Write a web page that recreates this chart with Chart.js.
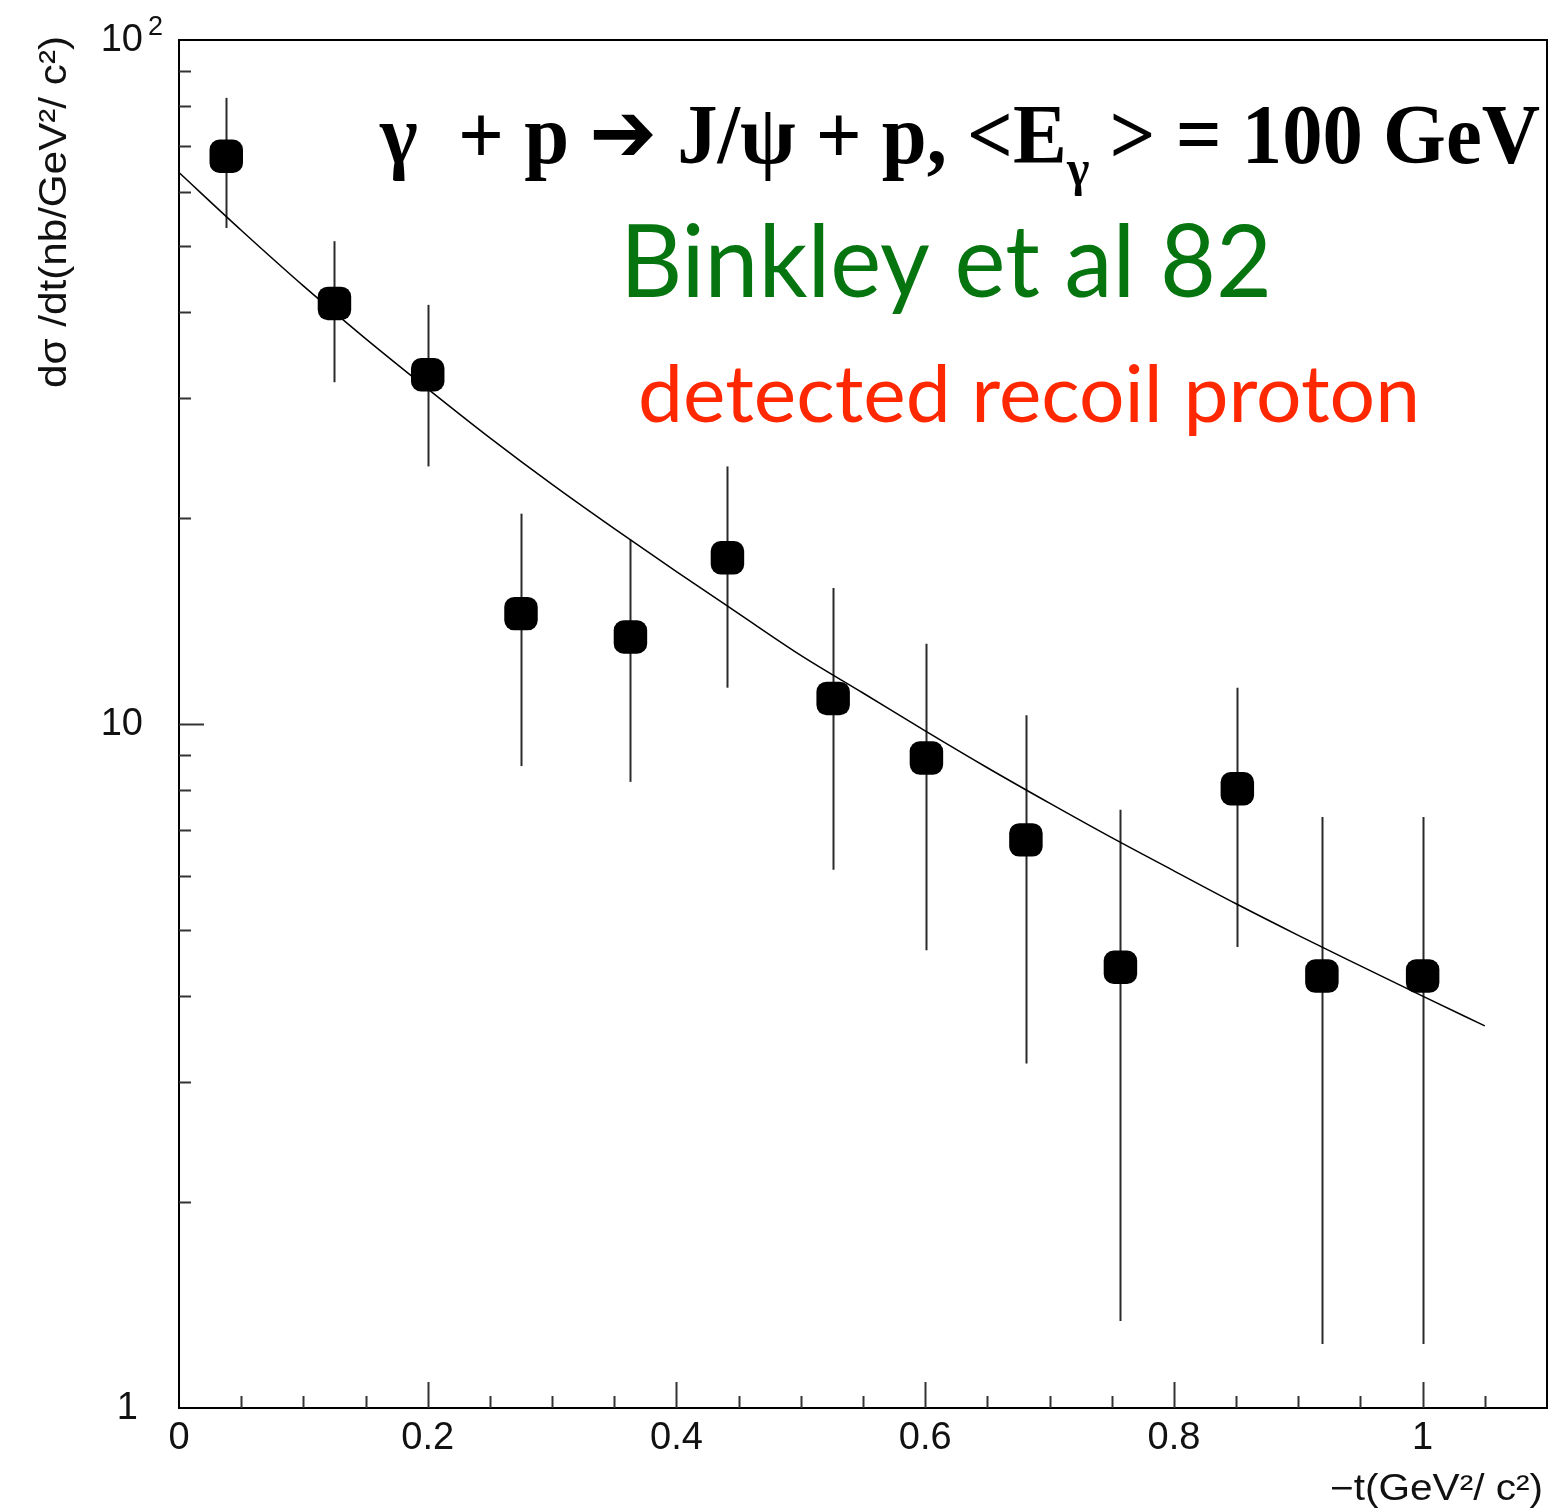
<!DOCTYPE html>
<html>
<head>
<meta charset="utf-8">
<title>J/psi photoproduction dsigma/dt</title>
<script src="https://cdn.jsdelivr.net/npm/chart.js@4.4.0/dist/chart.umd.min.js"></script>
<style>
  html, body { margin: 0; padding: 0; background: #fff; overflow: hidden; }
  #wrap { width: 1555px; height: 1510px; }
</style>
</head>
<body>
<div id="wrap"><canvas id="myChart" width="1555" height="1510"></canvas></div>
<script>
// measured points: -t, dsigma/dt and the ends of the error bars (nb/GeV^2)
const tValues = [0.038, 0.125, 0.200, 0.275, 0.363, 0.441, 0.526, 0.601, 0.681, 0.757, 0.851, 0.919, 1.000];
const dsdt    = [67.6, 41.2, 32.4, 14.5, 13.4, 17.5, 10.9, 8.92, 6.77, 4.41, 8.04, 4.28, 4.28];
const errHigh = [82.3, 50.8, 41.0, 20.3, 18.6, 23.8, 15.8, 13.1, 10.3, 7.49, 11.3, 7.31, 7.31];
const errLow  = [53.1, 31.6, 23.8, 8.68, 8.23, 11.3, 6.12, 4.67, 3.19, 1.34, 4.72, 1.24, 1.24];

// fitted curve, sampled every 0.05 in -t
const fitT      = [0, 0.05, 0.10, 0.15, 0.20, 0.25, 0.30, 0.35, 0.40, 0.45, 0.50,
                   0.55, 0.60, 0.65, 0.70, 0.75, 0.80, 0.85, 0.90, 0.95, 1.00, 1.05];
const fitValues = [64.0, 52.7, 43.7, 36.6, 30.9, 26.2, 22.4, 19.3, 16.7, 14.5, 12.6,
                   11.1, 9.77, 8.63, 7.66, 6.82, 6.10, 5.46, 4.91, 4.43, 4.00, 3.62];

// axis ticks and labels
const xTickValues = [0, 0.2, 0.4, 0.6, 0.8, 1];
const xTickLabels = ['0', '0.2', '0.4', '0.6', '0.8', '1'];
const yTickValues = [1, 10, 100];
const yTickLabels = ['1', '10', '10^2'];

const xTitle = '\u2212t(GeV\u00b2/ c\u00b2)';
const yTitle = 'd\u03c3 /dt(nb/GeV\u00b2/ c\u00b2)';

const pts = tValues.map((t, i) => ({ x: t, y: dsdt[i] }));
const fitPts = fitT.map((t, i) => ({ x: t, y: fitValues[i] }));

const errorBars = {
  id: 'errorBars',
  beforeDatasetsDraw(chart) {
    const { ctx, scales: { x, y } } = chart;
    ctx.save();
    ctx.strokeStyle = '#2a2a2a';
    ctx.lineWidth = 2;
    tValues.forEach((t, i) => {
      const px = Math.round(x.getPixelForValue(t)) + 0.5;
      ctx.beginPath();
      ctx.moveTo(px, y.getPixelForValue(errHigh[i]));
      ctx.lineTo(px, y.getPixelForValue(errLow[i]));
      ctx.stroke();
    });
    ctx.restore();
  }
};

// draw text squeezed/stretched horizontally to a given width
function fitText(ctx, text, x, y, width, align) {
  const w = ctx.measureText(text).width;
  const sx = width / w;
  ctx.save();
  ctx.translate(x, y);
  ctx.scale(sx, 1);
  ctx.textAlign = 'left';
  ctx.fillText(text, align === 'center' ? -w / 2 : 0, 0);
  ctx.restore();
}

const frameAndText = {
  id: 'frameAndText',
  afterDraw(chart) {
    const { ctx, chartArea: a, scales: { x, y } } = chart;
    ctx.save();

    // frame
    ctx.strokeStyle = '#000';
    ctx.lineWidth = 2;
    ctx.strokeRect(a.left, a.top, a.right - a.left, a.bottom - a.top);

    // inward ticks on x
    ctx.lineWidth = 2;
    ctx.strokeStyle = '#333';
    for (let i = 1; i * 0.05 < x.max - 1e-6; i++) {
      const v = i * 0.05;
      const px = Math.round(x.getPixelForValue(v)) + 0.5;
      const len = (i % 4 === 0) ? 26 : 12;
      ctx.beginPath();
      ctx.moveTo(px, a.bottom);
      ctx.lineTo(px, a.bottom - len);
      ctx.stroke();
    }
    // inward ticks on y (log decades)
    for (let d = 1; d < 100; d *= 10) {
      for (let m = 1; m <= 9; m++) {
        const v = m * d;
        if (v <= 1) continue;
        const py = Math.round(y.getPixelForValue(v)) + 0.5;
        const len = (m === 1) ? 25 : 12;
        ctx.beginPath();
        ctx.moveTo(a.left, py);
        ctx.lineTo(a.left + len, py);
        ctx.stroke();
      }
    }

    // tick labels
    ctx.fillStyle = '#111';
    ctx.font = '38px "Liberation Sans", Arial, sans-serif';
    ctx.textBaseline = 'middle';
    ctx.textAlign = 'center';
    xTickValues.forEach((v, i) => {
      ctx.fillText(xTickLabels[i], x.getPixelForValue(v), a.bottom + 31);
    });
    ctx.textAlign = 'right';
    yTickValues.forEach((v, i) => {
      const py = y.getPixelForValue(v);
      const [base, exp] = yTickLabels[i].split('^');
      const rx = base === '1' ? 138 : 143;
      ctx.font = '38px "Liberation Sans", Arial, sans-serif';
      ctx.fillText(base, rx, py + 1);
      if (exp) {
        ctx.textAlign = 'left';
        ctx.font = '27px "Liberation Sans", Arial, sans-serif';
        ctx.fillText(exp, rx + 5, py - 12);
        ctx.textAlign = 'right';
      }
    });

    // axis titles
    ctx.textBaseline = 'alphabetic';
    ctx.font = '36px "Liberation Sans", Arial, sans-serif';
    fitText(ctx, xTitle, 1330, 1500, 213);

    ctx.save();
    ctx.translate(66, 212);
    ctx.rotate(-Math.PI / 2);
    ctx.font = '38px "Liberation Sans", Arial, sans-serif';
    fitText(ctx, yTitle, 0, 0, 352, 'center');
    ctx.restore();

    // reaction label, arrow taken from DejaVu (filled head)
    ctx.fillStyle = '#000';
    const big = 'bold 84px "Liberation Serif", "Times New Roman", serif';
    const small = 'bold 50px "Liberation Serif", "Times New Roman", serif';
    const arrowFont = 'bold 84px "DejaVu Sans", sans-serif';
    const parts = [
      { s: '\u03b3  + p ', f: big, dy: 0 },
      { s: '\u2794', f: arrowFont, dy: -2 },
      { s: ' J/\u03c8 + p, <E', f: big, dy: 0 },
      { s: '\u03b3', f: small, dy: 22 },
      { s: ' > = 100 GeV', f: big, dy: 0 }
    ];
    let total = 0;
    parts.forEach(p => { ctx.font = p.f; p.w = ctx.measureText(p.s).width; total += p.w; });
    const sx = 1160 / total;
    ctx.save();
    ctx.translate(380, 163);
    ctx.scale(sx, 1);
    ctx.textAlign = 'left';
    let cx = 0;
    parts.forEach(p => { ctx.font = p.f; ctx.fillText(p.s, cx, p.dy); cx += p.w; });
    ctx.restore();

    // experiment labels
    ctx.fillStyle = '#067510';
    ctx.font = '101px Lato, "Open Sans", sans-serif';
    fitText(ctx, 'Binkley et al 82', 620, 297, 652);
    ctx.fillStyle = '#ff2800';
    ctx.font = '80px Lato, "Open Sans", sans-serif';
    fitText(ctx, 'detected recoil proton', 638, 422, 782);

    ctx.restore();
  }
};

new Chart(document.getElementById('myChart').getContext('2d'), {
  type: 'scatter',
  data: {
    datasets: [
      {
        label: 'fit',
        data: fitPts,
        showLine: true,
        borderColor: '#000',
        borderWidth: 1.5,
        pointRadius: 0,
        cubicInterpolationMode: 'monotone',
        order: 2
      },
      {
        label: 'data',
        data: pts,
        pointStyle: 'rectRounded',
        pointRadius: 19.5,
        backgroundColor: '#000',
        borderColor: '#000',
        borderWidth: 0,
        showLine: false,
        order: 1
      }
    ]
  },
  options: {
    responsive: false,
    animation: false,
    events: [],
    layout: { autoPadding: false, padding: { left: 179, top: 40, right: 8, bottom: 102 } },
    plugins: { legend: { display: false }, tooltip: { enabled: false } },
    scales: {
      x: { type: 'linear', min: 0, max: 1.1, display: false },
      y: { type: 'logarithmic', min: 1, max: 100, display: false }
    }
  },
  plugins: [errorBars, frameAndText]
});
</script>
</body>
</html>
